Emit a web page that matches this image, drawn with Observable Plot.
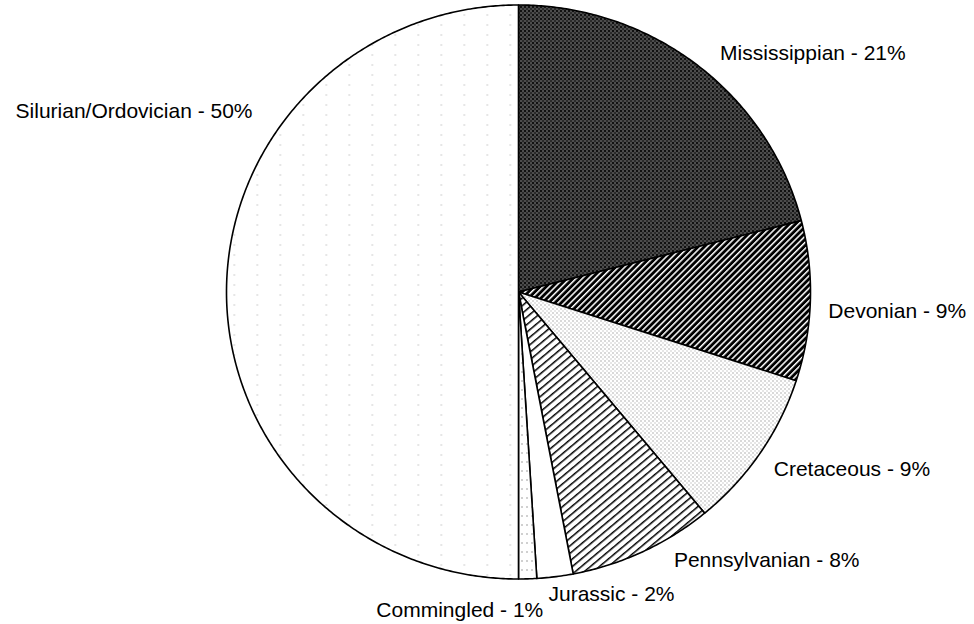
<!DOCTYPE html>
<html>
<head>
<meta charset="utf-8">
<script src="https://cdn.jsdelivr.net/npm/d3@7"></script>
<script src="https://cdn.jsdelivr.net/npm/@observablehq/plot@0.6"></script>
<style>
  html, body { margin: 0; padding: 0; background: #fff; }
  #chart svg { display: block; }
</style>
</head>
<body>
<div id="chart"></div>
<script>
// ---- data ----
const names = ["Mississippian", "Devonian", "Cretaceous", "Pennsylvanian", "Jurassic", "Commingled", "Silurian/Ordovician"];
const shares = [21, 9, 9, 8, 2, 1, 50];
const labels = ["Mississippian - 21%", "Devonian - 9%", "Cretaceous - 9%", "Pennsylvanian - 8%", "Jurassic - 2%", "Commingled - 1%", "Silurian/Ordovician - 50%"];

// ---- layout ----
const W = 974, H = 624;
const cx = 518, cy = 291.5, rx = 292, ry = 287, labelR = 311;
const anchors = ["start", "start", "start", "start", "start", "end", "end"];
const nudges = [[11, 7], [-1, 9], [-2, 2], [23, -13], [-9, -6], [15, 7], [45, -181]];
const patIds = ["pMiss", "pDev", "pCret", "pPenn", "pJur", "pComm", "pSil"];

const arcs = d3.pie().sort(null).value(d => d)(shares);

function slicePoints(a) {
  const pts = [{x: cx, y: cy}];
  const n = Math.max(2, Math.ceil((a.endAngle - a.startAngle) / (Math.PI / 360)));
  for (let k = 0; k <= n; k++) {
    const t = a.startAngle + (a.endAngle - a.startAngle) * k / n;
    pts.push({x: cx + rx * Math.sin(t), y: cy - ry * Math.cos(t)});
  }
  pts.push({x: cx, y: cy});
  return pts;
}

const labelRows = arcs.map((a, i) => {
  const m = (a.startAngle + a.endAngle) / 2;
  return {
    x: cx + labelR * Math.sin(m) + nudges[i][0],
    y: cy - labelR * Math.cos(m) + nudges[i][1],
    text: labels[i],
    anchor: anchors[i]
  };
});

const font = "'Liberation Sans', Arial, Helvetica, sans-serif";

const chart = Plot.plot({
  width: W,
  height: H,
  margin: 0,
  x: {domain: [0, W], range: [0, W], axis: null},
  y: {domain: [0, H], range: [0, H], axis: null},
  marks: [
    ...arcs.map((a, i) => Plot.line(slicePoints(a), {
      x: "x", y: "y",
      fill: `url(#${patIds[i]})`,
      stroke: "black",
      strokeWidth: 1.6,
      strokeLinejoin: "round"
    })),
    Plot.text(labelRows.filter(d => d.anchor === "start"), {
      x: "x", y: "y", text: "text", textAnchor: "start",
      fontSize: 21, fontFamily: font, fill: "black"
    }),
    Plot.text(labelRows.filter(d => d.anchor === "end"), {
      x: "x", y: "y", text: "text", textAnchor: "end",
      fontSize: 21, fontFamily: font, fill: "black"
    })
  ]
});

// ---- fill patterns ----
const svg = d3.select(chart);
const defs = svg.insert("defs", ":first-child");

// Mississippian: dark stipple
{
  const p = defs.append("pattern").attr("id", "pMiss").attr("patternUnits", "userSpaceOnUse")
    .attr("width", 4).attr("height", 4);
  p.append("rect").attr("width", 4).attr("height", 4).attr("fill", "#111");
  p.append("rect").attr("x", 0).attr("y", 0).attr("width", 1).attr("height", 1).attr("fill", "#fff");
  p.append("rect").attr("x", 2).attr("y", 2).attr("width", 1).attr("height", 1).attr("fill", "#fff");
  p.append("rect").attr("x", 2).attr("y", 0).attr("width", 1).attr("height", 1).attr("fill", "#777");
}
// Devonian: black with white diagonal lines
{
  const p = defs.append("pattern").attr("id", "pDev").attr("patternUnits", "userSpaceOnUse")
    .attr("width", 4.4).attr("height", 4.4).attr("patternTransform", "rotate(45)");
  p.append("rect").attr("width", 4.4).attr("height", 4.4).attr("fill", "#000");
  p.append("rect").attr("x", 0).attr("width", 1.5).attr("height", 4.4).attr("fill", "#fff");
}
// Cretaceous: light grey stipple
{
  const p = defs.append("pattern").attr("id", "pCret").attr("patternUnits", "userSpaceOnUse")
    .attr("width", 4).attr("height", 4);
  p.append("rect").attr("width", 4).attr("height", 4).attr("fill", "#fff");
  p.append("rect").attr("x", 0).attr("y", 0).attr("width", 1).attr("height", 1).attr("fill", "#666");
  p.append("rect").attr("x", 2).attr("y", 2).attr("width", 1).attr("height", 1).attr("fill", "#999");
}
// Pennsylvanian: white with black diagonal lines
{
  const p = defs.append("pattern").attr("id", "pPenn").attr("patternUnits", "userSpaceOnUse")
    .attr("width", 5.8).attr("height", 5.8).attr("patternTransform", "rotate(50)");
  p.append("rect").attr("width", 5.8).attr("height", 5.8).attr("fill", "#fff");
  p.append("rect").attr("x", 0).attr("width", 1.5).attr("height", 5.8).attr("fill", "#000");
}
// Jurassic: white
{
  const p = defs.append("pattern").attr("id", "pJur").attr("patternUnits", "userSpaceOnUse")
    .attr("width", 10).attr("height", 10);
  p.append("rect").attr("width", 10).attr("height", 10).attr("fill", "#fff");
}
// Commingled: white with sparse dots
{
  const p = defs.append("pattern").attr("id", "pComm").attr("patternUnits", "userSpaceOnUse")
    .attr("width", 5).attr("height", 9);
  p.append("rect").attr("width", 5).attr("height", 9).attr("fill", "#fff");
  p.append("rect").attr("x", 1).attr("y", 2).attr("width", 1).attr("height", 1).attr("fill", "#444");
}
// Silurian/Ordovician: white with very sparse dashes
{
  const p = defs.append("pattern").attr("id", "pSil").attr("patternUnits", "userSpaceOnUse")
    .attr("width", 23).attr("height", 10);
  p.append("rect").attr("width", 23).attr("height", 10).attr("fill", "#fff");
  p.append("rect").attr("x", 3).attr("y", 4).attr("width", 1.5).attr("height", 1).attr("fill", "#bbb");
}

document.getElementById("chart").appendChild(chart);
</script>
</body>
</html>
